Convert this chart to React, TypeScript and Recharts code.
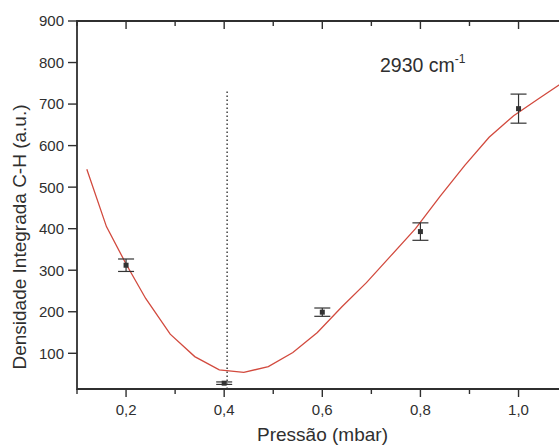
import React from 'react';
import {
  ComposedChart,
  Line,
  Scatter,
  XAxis,
  YAxis,
  ErrorBar,
  ReferenceLine,
  ReferenceArea,
} from 'recharts';

// Measured pressures (mbar), integrated C-H band density and its uncertainty
const pressures = [0.2, 0.4, 0.6, 0.8, 1.0];
const densities = [312, 28, 199, 393, 689];
const densityErrors = [15, 3, 10, 21, 35];

// Fitted curve through the measurements
const fitPressures = [
  0.12, 0.16, 0.2, 0.24, 0.29, 0.34, 0.39, 0.44, 0.49, 0.54, 0.59, 0.64, 0.69,
  0.74, 0.79, 0.84, 0.89, 0.94, 0.99, 1.04, 1.09,
];
const fitDensities = [
  543, 405, 315, 232, 146, 92, 60, 54, 68, 102, 150, 212, 270, 335, 400, 478,
  552, 620, 672, 712, 752,
];

// Pressure marked by the dotted line
const markerPressure = 0.406;
const markerTop = 730;

// Axis ranges and ticks (major ones carry a label)
const xDomain = [0.1, 1.1];
const yDomain = [14, 900];
const xTicks = [0.1, 0.2, 0.3, 0.4, 0.5, 0.6, 0.7, 0.8, 0.9, 1.0, 1.1];
const yTicks = [50, 100, 150, 200, 250, 300, 350, 400, 450, 500, 550, 600, 650, 700, 750, 800, 850, 900];

const points = pressures.map((x, i) => ({ x, y: densities[i], err: densityErrors[i] }));
const fit = fitPressures.map((x, i) => ({ x, y: fitDensities[i] }));

const FONT = '"Liberation Sans", Arial, Helvetica, sans-serif';
const INK = '#2f2f2f';

const isMajorX = (v: number) => Math.round(v * 10) % 2 === 0;
const isMajorY = (v: number) => Math.round(v) % 100 === 0;
const fmtX = (v: number) => v.toFixed(1).replace('.', ',');

const BottomTick = (props: any) => {
  const { x, y, payload } = props;
  const major = isMajorX(payload.value);
  return (
    <g>
      <line x1={x} y1={y} x2={x} y2={y + (major ? 8 : 5)} stroke={INK} strokeWidth={1.4} />
      {major && (
        <text x={x} y={y + 25.5} textAnchor="middle" fontFamily={FONT} fontSize={15} fill={INK}>
          {fmtX(payload.value)}
        </text>
      )}
    </g>
  );
};

// Mirror ticks on the upper frame point down into the plot
const TopTick = (props: any) => {
  const { x, y, payload } = props;
  const major = isMajorX(payload.value);
  return <line x1={x} y1={y} x2={x} y2={y + (major ? 8 : 5)} stroke={INK} strokeWidth={1.4} />;
};

const LeftTick = (props: any) => {
  const { x, y, payload } = props;
  const major = isMajorY(payload.value);
  return (
    <g>
      <line x1={x} y1={y} x2={x - (major ? 9 : 5)} y2={y} stroke={INK} strokeWidth={1.4} />
      {major && (
        <text x={x - 13} y={y + 5.4} textAnchor="end" fontFamily={FONT} fontSize={15} fill={INK}>
          {payload.value}
        </text>
      )}
    </g>
  );
};

const SquareDot = (props: any) => {
  const { cx, cy } = props;
  if (cx == null || cy == null) return null;
  return <rect x={cx - 2.5} y={cy - 2.5} width={5} height={5} fill="#333" />;
};

export default function App() {
  return (
    <div
      style={{
        position: 'absolute',
        left: 0,
        top: 0,
        width: 559,
        height: 446,
        overflow: 'hidden',
        background: '#fff',
      }}
    >
      <ComposedChart
        width={610}
        height={446}
        margin={{ top: 20, right: 42.4, bottom: 0, left: 0 }}
      >
        <XAxis
          xAxisId="top"
          orientation="top"
          type="number"
          dataKey="x"
          domain={xDomain}
          ticks={xTicks}
          height={1}
          tickSize={0}
          tickMargin={0}
          tickLine={false}
          tick={<TopTick />}
          axisLine={false}
          allowDataOverflow
        />
        <XAxis
          type="number"
          dataKey="x"
          domain={xDomain}
          ticks={xTicks}
          height={57}
          tickSize={0}
          tickMargin={0}
          tickLine={false}
          tick={<BottomTick />}
          axisLine={false}
          allowDataOverflow
        />
        <YAxis
          type="number"
          domain={yDomain}
          ticks={yTicks}
          width={77}
          tickSize={0}
          tickMargin={0}
          tickLine={false}
          tick={<LeftTick />}
          axisLine={false}
          allowDataOverflow
        />
        {/* plot frame */}
        <ReferenceArea
          x1={xDomain[0]}
          x2={xDomain[1]}
          y1={yDomain[0]}
          y2={yDomain[1]}
          fill="none"
          fillOpacity={0}
          stroke={INK}
          strokeWidth={1.8}
          ifOverflow="visible"
        />
        <ReferenceLine
          xAxisId="top"
          segment={[
            { x: markerPressure, y: yDomain[0] },
            { x: markerPressure, y: markerTop },
          ]}
          stroke="#333"
          strokeWidth={1.4}
          strokeDasharray="1.4 2.6"
        />
        <Line
          data={fit}
          dataKey="y"
          type="linear"
          stroke="#d24a3e"
          strokeWidth={1.3}
          dot={false}
          activeDot={false}
          isAnimationActive={false}
        />
        <Scatter data={points} dataKey="y" shape={<SquareDot />} isAnimationActive={false}>
          <ErrorBar dataKey="err" direction="y" width={8} stroke="#333" strokeWidth={1.2} />
        </Scatter>
      </ComposedChart>
      <svg
        width={559}
        height={446}
        style={{ position: 'absolute', left: 0, top: 0, pointerEvents: 'none' }}
      >
        <text
          x={26}
          y={237}
          transform="rotate(-90, 26, 237)"
          textAnchor="middle"
          fontFamily={FONT}
          fontSize={19}
          fill={INK}
        >
          Densidade Integrada C-H (a.u.)
        </text>
        <text x={322.5} y={441} textAnchor="middle" fontFamily={FONT} fontSize={19} fill={INK}>
          Pressão (mbar)
        </text>
        <text x={380} y={71.5} fontFamily={FONT} fontSize={19.5} fill={INK}>
          2930 cm
          <tspan fontSize={12} dy={-9}>
            -1
          </tspan>
        </text>
      </svg>
    </div>
  );
}
